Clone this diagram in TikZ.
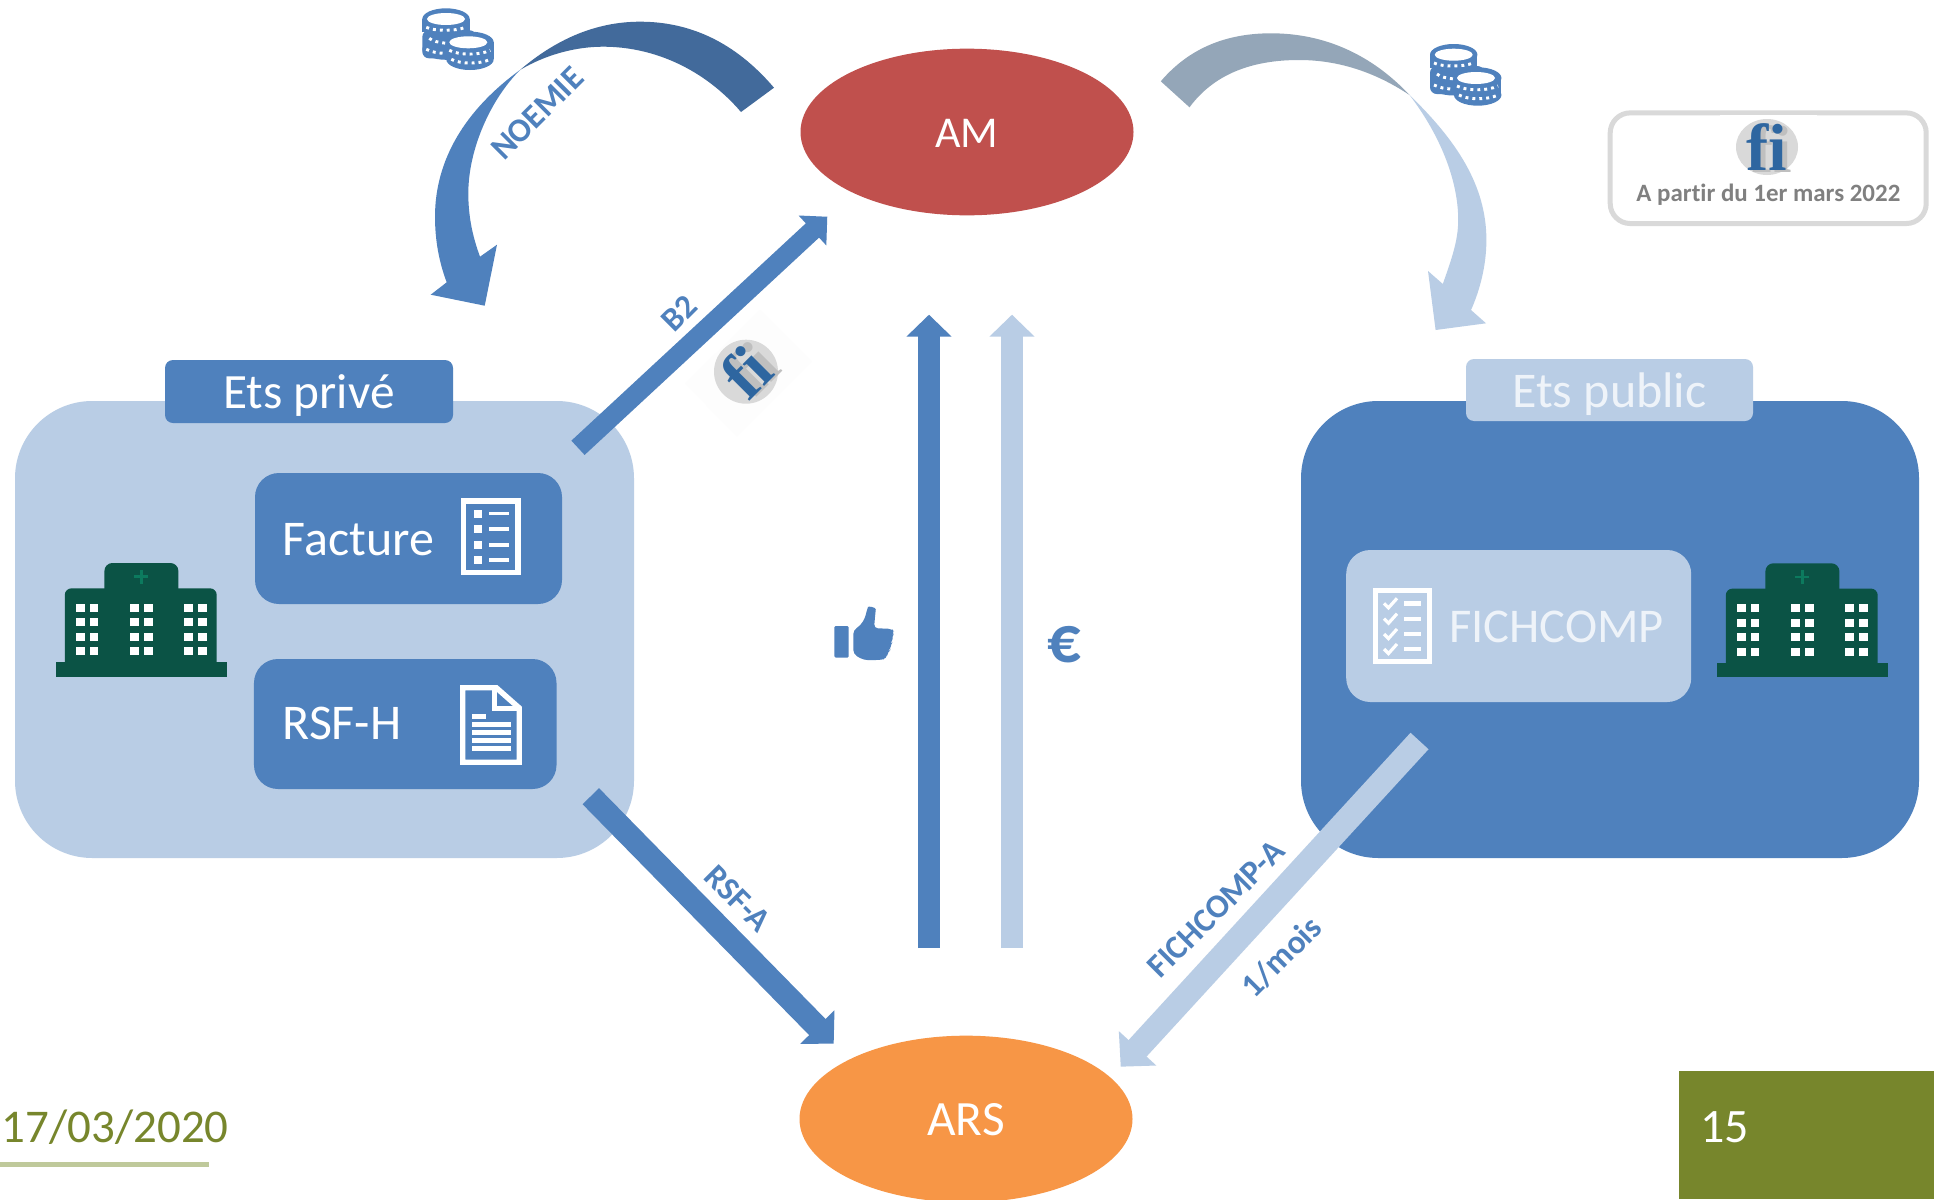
\documentclass[tikz,border=0pt]{standalone}
\usepackage{fontspec}
\setmainfont{Carlito}[Ligatures=NoCommon]
\newfontfamily\fiserif{Liberation Serif}
\usetikzlibrary{arrows.meta,shapes.geometric}
\definecolor{mainblue}{HTML}{4F81BD}
\definecolor{lightblue}{HTML}{B9CDE5}
\definecolor{darkblue}{HTML}{426A9B}
\definecolor{greyblue}{HTML}{94A6B8}
\definecolor{amred}{HTML}{C0504D}
\definecolor{arsorange}{HTML}{F79646}
\definecolor{hospgreen}{HTML}{0B5345}
\definecolor{hospplus}{HTML}{0C7A5E}
\definecolor{olive}{HTML}{77862C}
\definecolor{oliveline}{HTML}{BFC99B}
\definecolor{logogrey}{HTML}{D9D9D9}
\definecolor{logoblue}{HTML}{2E66A0}
\definecolor{offwhite}{HTML}{EEF3F9}
\definecolor{faintbg}{HTML}{FDFDFD}
\newcommand\szlarge{\fontsize{37.5pt}{40pt}\selectfont}
\newcommand\szlabel{\fontsize{25pt}{28pt}\selectfont\bfseries}
\tikzset{
  txt/.style={inner sep=0pt,outer sep=0pt},
  bigbox/.style={rectangle,rounded corners=58pt,inner sep=0pt},
  titlebox/.style={rectangle,rounded corners=6pt,inner sep=0pt,font=\szlarge},
  innerbox/.style={rectangle,rounded corners=18pt,inner sep=0pt,fill=mainblue},
  oval/.style={ellipse,inner sep=0pt,minimum width=249.75pt,minimum height=125pt,text=white,text depth=0pt},
  axis/.style={line width=16.5pt,-{Triangle[length=16.5pt,width=33pt,sep=0pt]}},
  rotlabel/.style={txt,font=\szlabel,text=mainblue},
  icon/.style={draw=white,line width=4.1pt,miter limit=10}
}
\newcommand\hospitalicon[2]{%
\begin{scope}[shift={(#1,#2)}]
  \fill[hospgreen,rounded corners=5pt] (64.8,676) -- (64.8,588.3) -- (216.7,588.3) -- (216.7,676) -- cycle;
  \fill[hospgreen,rounded corners=6pt] (104.4,600) -- (104.4,563) -- (178.4,563) -- (178.4,600) -- cycle;
  \fill[hospgreen] (55.5,662.3) rectangle (226.5,676.7);
  \foreach \wx in {76.2,89.9,130.2,144,184.3,198} \foreach \wy in {604,618.3,633,647.3}
    \fill[white] (\wx,\wy) rectangle ++(8.5,8);
  \draw[hospplus,line width=2.2pt] (134.2,576.7) -- (148.2,576.7) (141.2,570) -- (141.2,583.5);
\end{scope}}
\newcommand\coinsicon[2]{%
\begin{scope}[shift={(#1,#2)}]
  \fill[mainblue] (23.7,10.7) ellipse [x radius=23.7,y radius=10.7];
  \fill[mainblue] (0,10.7) rectangle (47.4,24);
  \fill[mainblue,rounded corners=5pt] (0,22) rectangle (54,50);
  \fill[mainblue] (23.7,41) ellipse [x radius=23.7,y radius=10.5];
  \fill[white] (23.7,10.7) ellipse [x radius=19,y radius=6];
  \draw[white,line width=2.2pt,dash pattern=on 2.2pt off 3pt] (4,19) .. controls (12,23) and (34,23) .. (43,19);
  \draw[white,line width=2.2pt,dash pattern=on 2.2pt off 3pt] (7,30) .. controls (10,33) and (16,34) .. (24,35);
  \draw[white,line width=2.2pt,dash pattern=on 2.2pt off 3pt] (4,41) .. controls (10,44) and (16,45) .. (24,45);
  \fill[mainblue] (47.7,34) ellipse [x radius=23.7,y radius=10.7];
  \fill[mainblue] (24,34) rectangle (71.4,51);
  \fill[mainblue] (47.7,51) ellipse [x radius=23.7,y radius=10.7];
  \fill[white] (46,34) ellipse [x radius=19,y radius=6];
  \draw[white,line width=2.2pt,dash pattern=on 2.2pt off 3pt] (27,42) .. controls (36,47) and (58,47) .. (68,42);
  \draw[white,line width=2.2pt,dash pattern=on 2.2pt off 3pt] (29,51) .. controls (38,56) and (58,56) .. (68,51);
\end{scope}}
\begin{document}
\begin{tikzpicture}[x=0.75pt,y=-0.75pt]
\useasboundingbox (0,0) rectangle (1934,1199);
\clip (0,0) rectangle (1934,1199);
\fill[white] (0,0) rectangle (1934,1199);

% side panels
\node[bigbox,fill=lightblue,minimum width=464.25pt,minimum height=342.75pt] (prive) at (324.5,629.5) {};
\node[bigbox,fill=mainblue,minimum width=463.5pt,minimum height=342.75pt] (public) at (1610,629.5) {};
\node[titlebox,fill=mainblue,text=white,minimum width=216pt,minimum height=47.25pt,text height=24.75pt,text depth=0pt,font=\fontsize{37pt}{40pt}\selectfont] (ptitle) at (309,391.5) {Ets privé};
\node[titlebox,fill=lightblue,text=offwhite,minimum width=215.25pt,minimum height=46.5pt,text height=25.5pt,text depth=0pt] (ptitle2) at (1609.5,390) {Ets public};

% inner boxes
\node[innerbox,minimum width=230.25pt,minimum height=98.25pt] (facture) at (408.5,538.5) {};
\node[innerbox,minimum width=226.9pt,minimum height=97.5pt] (rsfh) at (405.25,724) {};
\node[innerbox,fill=lightblue,minimum width=258.75pt,minimum height=114pt] (fichcomp) at (1518.7,626) {};
\node[txt,anchor=base west,text=white,font=\szlarge] (facturet) at (282.5,555) {Facture};
\node[txt,anchor=base west,text=white,font=\szlarge] (rsfht) at (282.5,739) {RSF-H};
\node[txt,anchor=base west,text=offwhite,font=\fontsize{36.4pt}{40pt}\selectfont] (fichcompt) at (1449,642.7) {FICHCOMP};

% facture icon
\draw[icon] (463.55,501.05) rectangle (517.95,572.25);
\foreach \by in {510,525.3,541,556} \fill[white] (473.5,\by) rectangle ++(8,7.5);
\foreach \by in {511.7,527.2,543,558} \fill[white] (489,\by) rectangle ++(20,3.7);

% rsf-h icon
\draw[icon] (462.75,687.75) -- (496.3,687.75) -- (519.25,708) -- (519.25,762.25) -- (462.75,762.25) -- cycle;
\draw[draw=white,line width=4.1pt] (494.5,686) -- (494.5,708.5) -- (520,708.5);
\fill[white] (471.8,714) rectangle (486,718.7);
\foreach \by in {722,730,738,746} \fill[white] (471.8,\by) rectangle (511,\by+4.5);

% fichcomp icon
\draw[icon] (1375.25,590.45) rectangle (1429.25,661.55);
\foreach \by in {603.3,618.7,634,649} {
  \draw[white,line width=2.4pt] (1384,\by) -- (1388.5,\by+4.5) -- (1397,\by-5);
  \fill[white] (1404,\by-2) rectangle (1421,\by+2.2);
}

\hospitalicon{0}{0}
\hospitalicon{1661}{0.3}

% block arrows
\coordinate (b2a) at (578,447.8);
\coordinate (b2b) at (827.3,216.7);
\coordinate (rsfa) at (590.8,796.2);
\coordinate (rsfb) at (833.7,1043.7);
\coordinate (fca) at (1419.5,741);
\coordinate (fcb) at (1120.7,1066.7);
\coordinate (upa) at (929,948);
\coordinate (upb) at (929,314.7);
\coordinate (eua) at (1012,948);
\coordinate (eub) at (1012,314.7);
\draw[mainblue,line width=14.6pt,-{Triangle[length=15.2pt,width=29.7pt,sep=0pt]}] (b2a) -- (b2b);
\draw[mainblue,line width=17.25pt,-{Triangle[length=17.5pt,width=34.9pt,sep=0pt]}] (rsfa) -- (rsfb);
\draw[lightblue,line width=18.3pt,-{Triangle[length=18.7pt,width=37pt,sep=0pt]}] (fca) -- (fcb);
\draw[axis,mainblue] (upa) -- (upb);
\draw[axis,lightblue] (eua) -- (eub);

% ovals
\node[oval,fill=amred,font=\fontsize{33pt}{36pt}\selectfont,text height=22.5pt] (AM) at (967,132) {AM};
\node[oval,fill=arsorange,font=\fontsize{37pt}{40pt}\selectfont,text height=24pt] (ARS) at (966,1119) {ARS};

% curved arrows
\fill[darkblue] (774,87.7) .. controls (735,42) and (690,21.7) .. (640,21.7) .. controls (595,21.7) and (555,40) .. (520,70)
  .. controls (545,55) and (575,46.7) .. (603,46.7) .. controls (655,46.7) and (705,70) .. (741,112) -- cycle;
\fill[mainblue] (520,70) .. controls (465,110) and (435,160) .. (435,216.7) .. controls (435,240) and (439,262) .. (446.7,282.3)
  -- (430.7,294.7) -- (484.7,305.7) -- (497,244.7) -- (480,256.7)
  .. controls (472,235) and (468.3,215) .. (468.3,193.3) .. controls (468.3,150) and (490,100) .. (520,70) -- cycle;
\fill[greyblue] (1160.8,81.3) .. controls (1190,47) and (1228,33.3) .. (1271,33.3) .. controls (1325,33.3) and (1372,55) .. (1409.5,95)
  .. controls (1375,72) and (1338,60) .. (1299,60) .. controls (1252,60) and (1214,74) .. (1189.5,107.3) -- cycle;
\fill[lightblue] (1409.5,95) .. controls (1456,140) and (1486.4,185) .. (1486.4,240) .. controls (1486.4,265) and (1480,290) .. (1471,310)
  -- (1486,323.3) -- (1435.6,330) -- (1428,271) -- (1442.8,284)
  .. controls (1452,258) and (1458.2,240) .. (1458.2,220) .. controls (1458.2,180) and (1440,135) .. (1409.5,95) -- cycle;

\coinsicon{422.3}{8.3}
\coinsicon{1430}{44}

% rotated labels
\node[rotlabel,rotate=45] (noemie) at (537.3,113.3) {NOEMIE};
\node[rotlabel,rotate=45] (b2) at (679.3,313.3) {B2};
\node[rotlabel,rotate=-45] (rsfal) at (737.7,898.3) {RSF-A};
\node[rotlabel,rotate=45] (fichl) at (1216,909) {FICHCOMP-A};
\node[rotlabel,rotate=45] (moisl) at (1281.7,956.7) {1/mois};

% thumb
\begin{scope}[shift={(800,580)},x=0.25pt,y=-0.25pt]
  \fill[mainblue,rounded corners=1pt] (103,138) rectangle (146,233);
  \fill[mainblue,rounded corners=3pt] (160,150) .. controls (185,135) and (195,115) .. (200,92) .. controls (205,78) and (228,82) .. (226,100) -- (222,145) -- (275,146) -- (284,157) -- (275,170) -- (278,185) -- (270,195) -- (273,208) -- (263,215) -- (260,236) -- (240,240) -- (190,240) -- (160,222) -- cycle;
\end{scope}
\node[txt,text=mainblue,font=\fontsize{50pt}{52pt}\selectfont\bfseries] (euro) at (1064,645) {€};

% rotated fi logo
\fill[faintbg] (760,310) -- (811.7,361.7) -- (736.7,436.7) -- (685,383.3) -- cycle;
\node[ellipse,fill=logogrey,inner sep=0pt,minimum width=48pt,minimum height=48pt] (filogo) at (746,371.7) {};
\node[txt,rotate=45,text=black!25,font=\fontsize{50pt}{52pt}\selectfont\fiserif\bfseries] (fishadow) at (753,368) {f\kern0pt i};
\node[txt,rotate=45,text=logoblue,font=\fontsize{50pt}{52pt}\selectfont\fiserif\bfseries] (fitext) at (746,371.7) {f\kern0pt i};

% legend
\node[rectangle,draw=logogrey,line width=3.75pt,fill=white,rounded corners=15pt,inner sep=0pt,minimum width=237pt,minimum height=83pt] (legend) at (1768.2,168.2) {};
\fill[white] (1720,115) rectangle (1817,130);
\node[ellipse,fill=logogrey,inner sep=0pt,minimum width=46.5pt,minimum height=42pt] (filogo2) at (1767,147) {};
\node[txt,anchor=base,text=black!25,font=\fontsize{50pt}{52pt}\selectfont\fiserif\bfseries] (fishadow2) at (1772,172) {f\kern0pt i};
\node[txt,anchor=base,text=logoblue,font=\fontsize{50pt}{52pt}\selectfont\fiserif\bfseries] (fitext2) at (1767,170.7) {f\kern0pt i};
\node[txt,anchor=base,text=black!50,font=\fontsize{18.7pt}{21pt}\selectfont\bfseries] (apartir) at (1768.4,201.7) {A partir du 1er mars 2022};

% footer
\node[txt,anchor=base west,text=olive,font=\fontsize{35.2pt}{38pt}\selectfont] (date) at (2,1142.7) {17/03/2020};
\fill[oliveline] (0,1162.3) rectangle (209,1167.3);
\fill[olive] (1679,1071) rectangle (1934,1199);
\node[txt,anchor=base west,text=white,font=\fontsize{36pt}{38pt}\selectfont] (page) at (1700,1142.7) {15};
\end{tikzpicture}
\end{document}
